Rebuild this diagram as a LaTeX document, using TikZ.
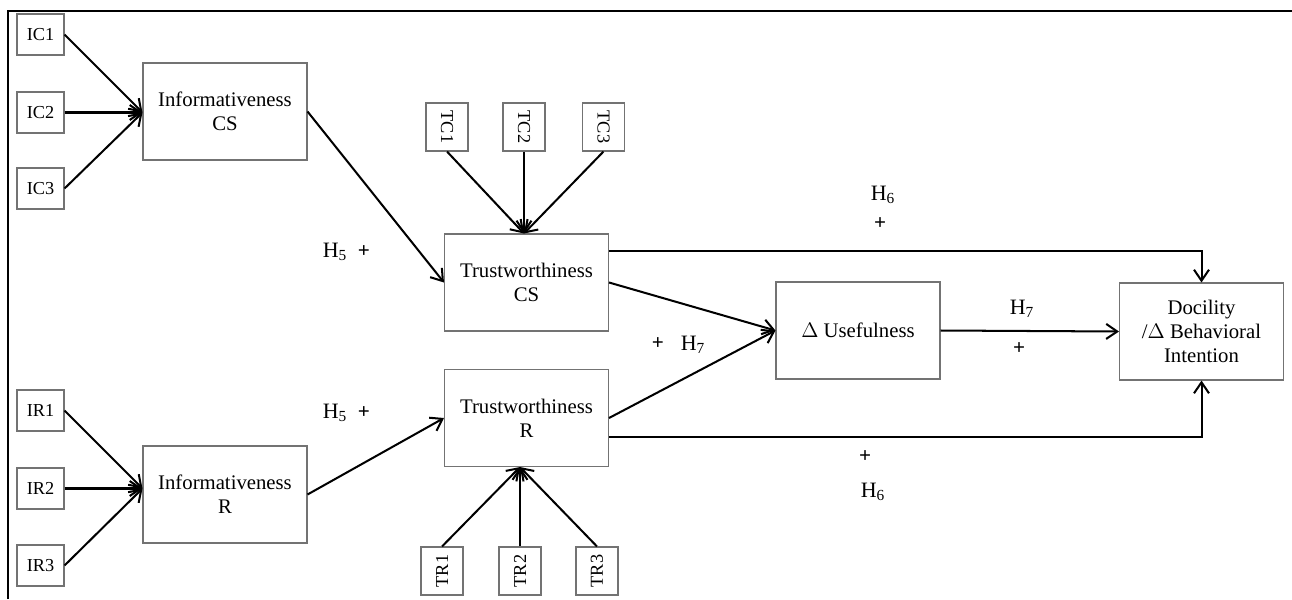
\documentclass[tikz,border=0pt]{standalone}
\usepackage{fontspec}
\setmainfont{Liberation Serif}
\usetikzlibrary{arrows.meta}

\begin{document}
\begin{tikzpicture}[x=0.02cm,y=-0.02cm,>={Straight Barb[length=2.2mm,width=3mm]},
      c/.style={rectangle,draw=black!55,line width=0.6pt,minimum width=3.28cm,minimum height=1.94cm,align=center,font=\fontsize{11.8}{13.8}\selectfont},
      m/.style={rectangle,draw=black!55,line width=0.6pt,minimum width=0.94cm,minimum height=0.82cm,inner sep=1pt,font=\fontsize{10.4}{12}\selectfont},
      mv/.style={m,minimum width=0.84cm,minimum height=0.96cm},
      h/.style={font=\fontsize{12.5}{14}\selectfont,inner sep=1pt},
      p/.style={font=\bfseries\fontsize{12}{14}\selectfont,inner sep=1pt},
      l/.style={->,line width=1.15pt}]
    \useasboundingbox (0,0) rectangle (1292,599);
    \draw[line width=1.5pt] (8,599) -- (8,11) -- (1292,11);
    % indicators
    \node[m] (ic1) at (40.5,34.5) {IC1};
    \node[m] (ic2) at (40.5,112.5) {IC2};
    \node[m] (ic3) at (40.5,188.5) {IC3};
    \node[m] (ir1) at (40.5,410.5) {IR1};
    \node[m] (ir2) at (40.5,488.5) {IR2};
    \node[m] (ir3) at (40.5,565.5) {IR3};
    \node[mv] (tc1) at (447,127) {\rotatebox{-90}{TC1}};
    \node[mv] (tc2) at (524,127) {\rotatebox{-90}{TC2}};
    \node[mv] (tc3) at (603.5,127) {\rotatebox{-90}{TC3}};
    \node[mv] (tr1) at (442,571) {\rotatebox{90}{TR1}};
    \node[mv] (tr2) at (520,571) {\rotatebox{90}{TR2}};
    \node[mv] (tr3) at (597,571) {\rotatebox{90}{TR3}};
    % constructs
    \node[c] (infcs) at (225,111.5) {Informativeness\\CS};
    \node[c] (infr) at (225,494.5) {Informativeness\\R};
    \node[c] (trcs) at (526.5,282.5) {Trustworthiness\\CS};
    \node[c] (trr) at (526.5,418) {Trustworthiness\\R};
    \node[c] (use) at (858,330.5) {$\Delta$ Usefulness};
    \node[c] (doc) at (1201.5,331.5) {Docility\\/$\Delta$ Behavioral\\Intention};
    \draw[l] (ic1.east) -- (infcs.west |- ic2);
    \draw[l] (ic2.east) -- (infcs.west |- ic2);
    \draw[l] (ic3.east) -- (infcs.west |- ic2);
    \draw[l] (ir1.east) -- (infr.west |- ir2);
    \draw[l] (ir2.east) -- (infr.west |- ir2);
    \draw[l] (ir3.east) -- (infr.west |- ir2);
    \draw[l] (tc1.south) -- (trcs.north -| tc2);
    \draw[l] (tc2.south) -- (trcs.north -| tc2);
    \draw[l] (tc3.south) -- (trcs.north -| tc2);
    \draw[l] (tr1.north) -- (trr.south -| tr2);
    \draw[l] (tr2.north) -- (trr.south -| tr2);
    \draw[l] (tr3.north) -- (trr.south -| tr2);
    \draw[l] (infcs.east) -- (trcs.west);
    \draw[l] (infr.east) -- (trr.west);
    \draw[l] (trcs.east) -- (use.west);
    \draw[l] (trr.east) -- (use.west);
    \draw[l] (use.east) -- (doc.west);
    \draw[l] ([yshift=0.63cm]trcs.east) -| (doc.north);
    \draw[l] ([yshift=-0.38cm]trr.east) -| (doc.south);
    % hypotheses
    \node[h] (h5a) at (335,252) {H\textsubscript{5}};
    \node[p] (p5a) at (364,252) {+};
    \node[h] (h5b) at (335,413) {H\textsubscript{5}};
    \node[p] (p5b) at (364,413) {+};
    \node[h] (h6a) at (883,195) {H\textsubscript{6}};
    \node[p] (p6a) at (880,224) {+};
    \node[p] (p7a) at (658,344) {+};
    \node[h] (h7a) at (693,345) {H\textsubscript{7}};
    \node[h] (h7b) at (1022,309) {H\textsubscript{7}};
    \node[p] (p7b) at (1019,349) {+};
    \node[p] (p6b) at (865,457) {+};
    \node[h] (h6b) at (873,492) {H\textsubscript{6}};
  \end{tikzpicture}
\end{document}
